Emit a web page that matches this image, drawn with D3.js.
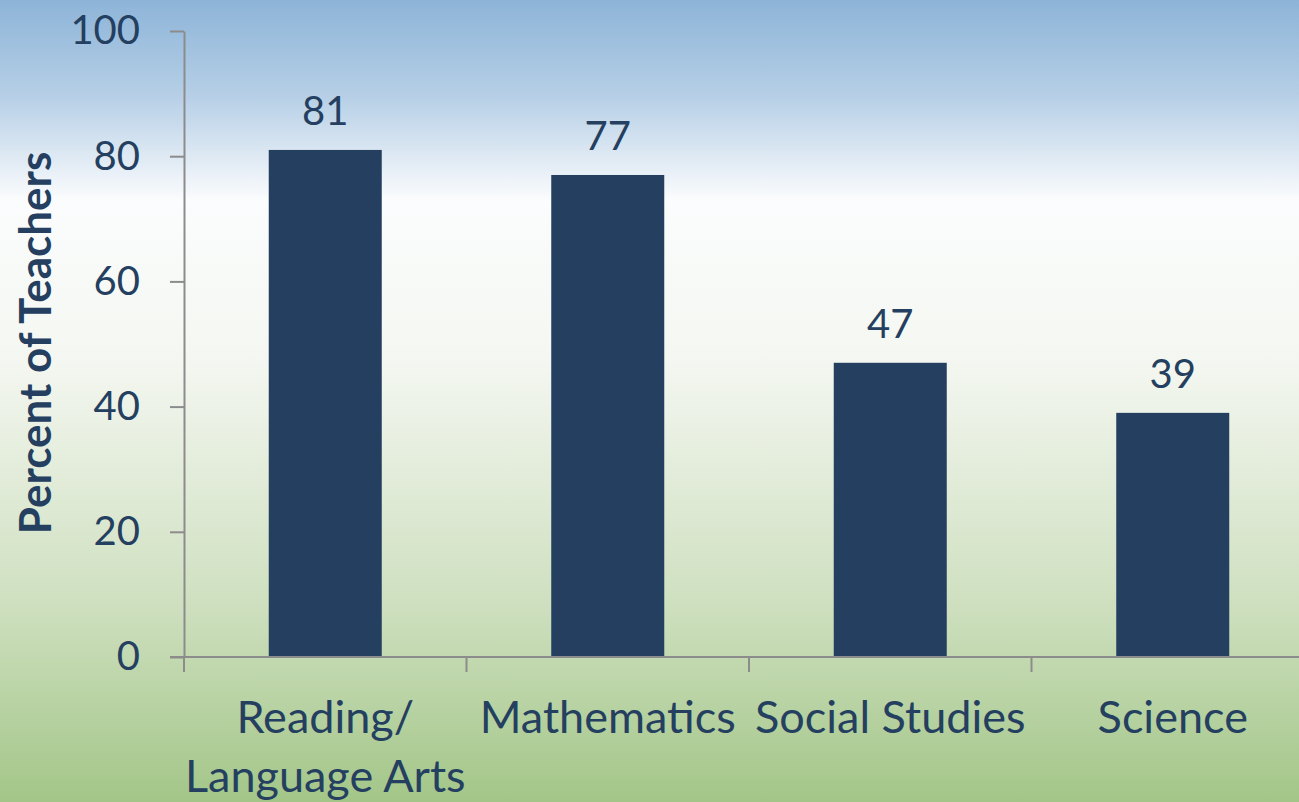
<!DOCTYPE html>
<html>
<head>
<meta charset="utf-8">
<script src="https://cdn.jsdelivr.net/npm/d3@7"></script>
<style>
  html, body { margin: 0; padding: 0; overflow: hidden; }
  svg { display: block; }
  text { font-family: Lato, "Open Sans", sans-serif; fill: #243f60; }
</style>
</head>
<body>
<script>
// chart data
var subjects = ["Reading/\nLanguage Arts", "Mathematics", "Social Studies", "Science"];
var percents = [81, 77, 47, 39];
var yTicks = [0, 20, 40, 60, 80, 100];

var W = 1299, H = 802;
var margin = {left: 184, top: 31, right: -15, bottom: 145};

var svg = d3.select("body").append("svg")
  .attr("width", W).attr("height", H);

// background gradient (blue sky -> white -> green)
var defs = svg.append("defs");
var grad = defs.append("linearGradient").attr("id", "bg")
  .attr("x1", 0).attr("y1", 0).attr("x2", 0).attr("y2", 1);
grad.append("stop").attr("offset", "0%").attr("stop-color", "#8db4d8");
grad.append("stop").attr("offset", "12%").attr("stop-color", "#b6cfe6");
grad.append("stop").attr("offset", "25%").attr("stop-color", "#fbfcfd");
grad.append("stop").attr("offset", "45%").attr("stop-color", "#f4f7f1");
grad.append("stop").attr("offset", "75%").attr("stop-color", "#cfe0c0");
grad.append("stop").attr("offset", "100%").attr("stop-color", "#a3c688");
svg.append("rect").attr("width", W).attr("height", H).attr("fill", "url(#bg)");

var plotW = W - margin.left - margin.right;
var plotH = H - margin.top - margin.bottom;

var x = d3.scaleBand().domain(subjects).range([0, plotW]).paddingInner(0.6).paddingOuter(0.3);
var y = d3.scaleLinear().domain([0, 100]).range([plotH, 0]);

var g = svg.append("g").attr("transform", "translate(" + margin.left + "," + margin.top + ")");

// bars
g.selectAll("rect.bar")
  .data(percents)
  .enter().append("rect")
  .attr("class", "bar")
  .attr("x", function(d, i) { return x(subjects[i]); })
  .attr("y", function(d) { return y(d); })
  .attr("width", x.bandwidth())
  .attr("height", function(d) { return plotH - y(d); })
  .attr("fill", "#253f60");

// value labels
g.selectAll("text.val")
  .data(percents)
  .enter().append("text")
  .attr("class", "val")
  .attr("x", function(d, i) { return x(subjects[i]) + x.bandwidth() / 2; })
  .attr("y", function(d) { return y(d) - 25; })
  .attr("text-anchor", "middle")
  .style("font-size", "40px")
  .text(function(d) { return d; });

// y axis
var yAxis = g.append("g")
  .call(d3.axisLeft(y).tickValues(yTicks).tickSize(14).tickPadding(30).tickSizeOuter(0));
yAxis.selectAll("line").attr("stroke", "#8c8c8c").attr("stroke-width", 2);
yAxis.select(".domain").attr("stroke", "#8c8c8c").attr("stroke-width", 2);
yAxis.selectAll("text").style("font-size", "40px").attr("fill", "#243f60");

// x axis, with ticks at the band edges
var edges = d3.range(subjects.length + 1).map(function(i) { return i * plotW / subjects.length; });
var xg = g.append("g").attr("transform", "translate(0," + plotH + ")");
xg.append("line").attr("x1", -14).attr("x2", plotW)
  .attr("stroke", "#8c8c8c").attr("stroke-width", 2);
xg.selectAll("line.tk").data(edges).enter().append("line")
  .attr("class", "tk")
  .attr("x1", function(d) { return d; }).attr("x2", function(d) { return d; })
  .attr("y1", 0).attr("y2", 15)
  .attr("stroke", "#8c8c8c").attr("stroke-width", 2);

xg.selectAll("text.cat").data(subjects).enter().append("text")
  .attr("class", "cat")
  .attr("text-anchor", "middle")
  .attr("transform", function(d) { return "translate(" + (x(d) + x.bandwidth() / 2) + ",76)"; })
  .style("font-size", "45px")
  .each(function(d) {
    var lines = d.split("\n");
    var t = d3.select(this);
    lines.forEach(function(l, k) {
      t.append("tspan").attr("x", 0).attr("dy", k === 0 ? 0 : 59).text(l);
    });
  });

// y axis title
svg.append("text")
  .attr("transform", "translate(51,343) rotate(-90)")
  .attr("text-anchor", "middle")
  .style("font-size", "44px")
  .style("font-weight", "bold")
  .text("Percent of Teachers");
</script>
</body>
</html>
